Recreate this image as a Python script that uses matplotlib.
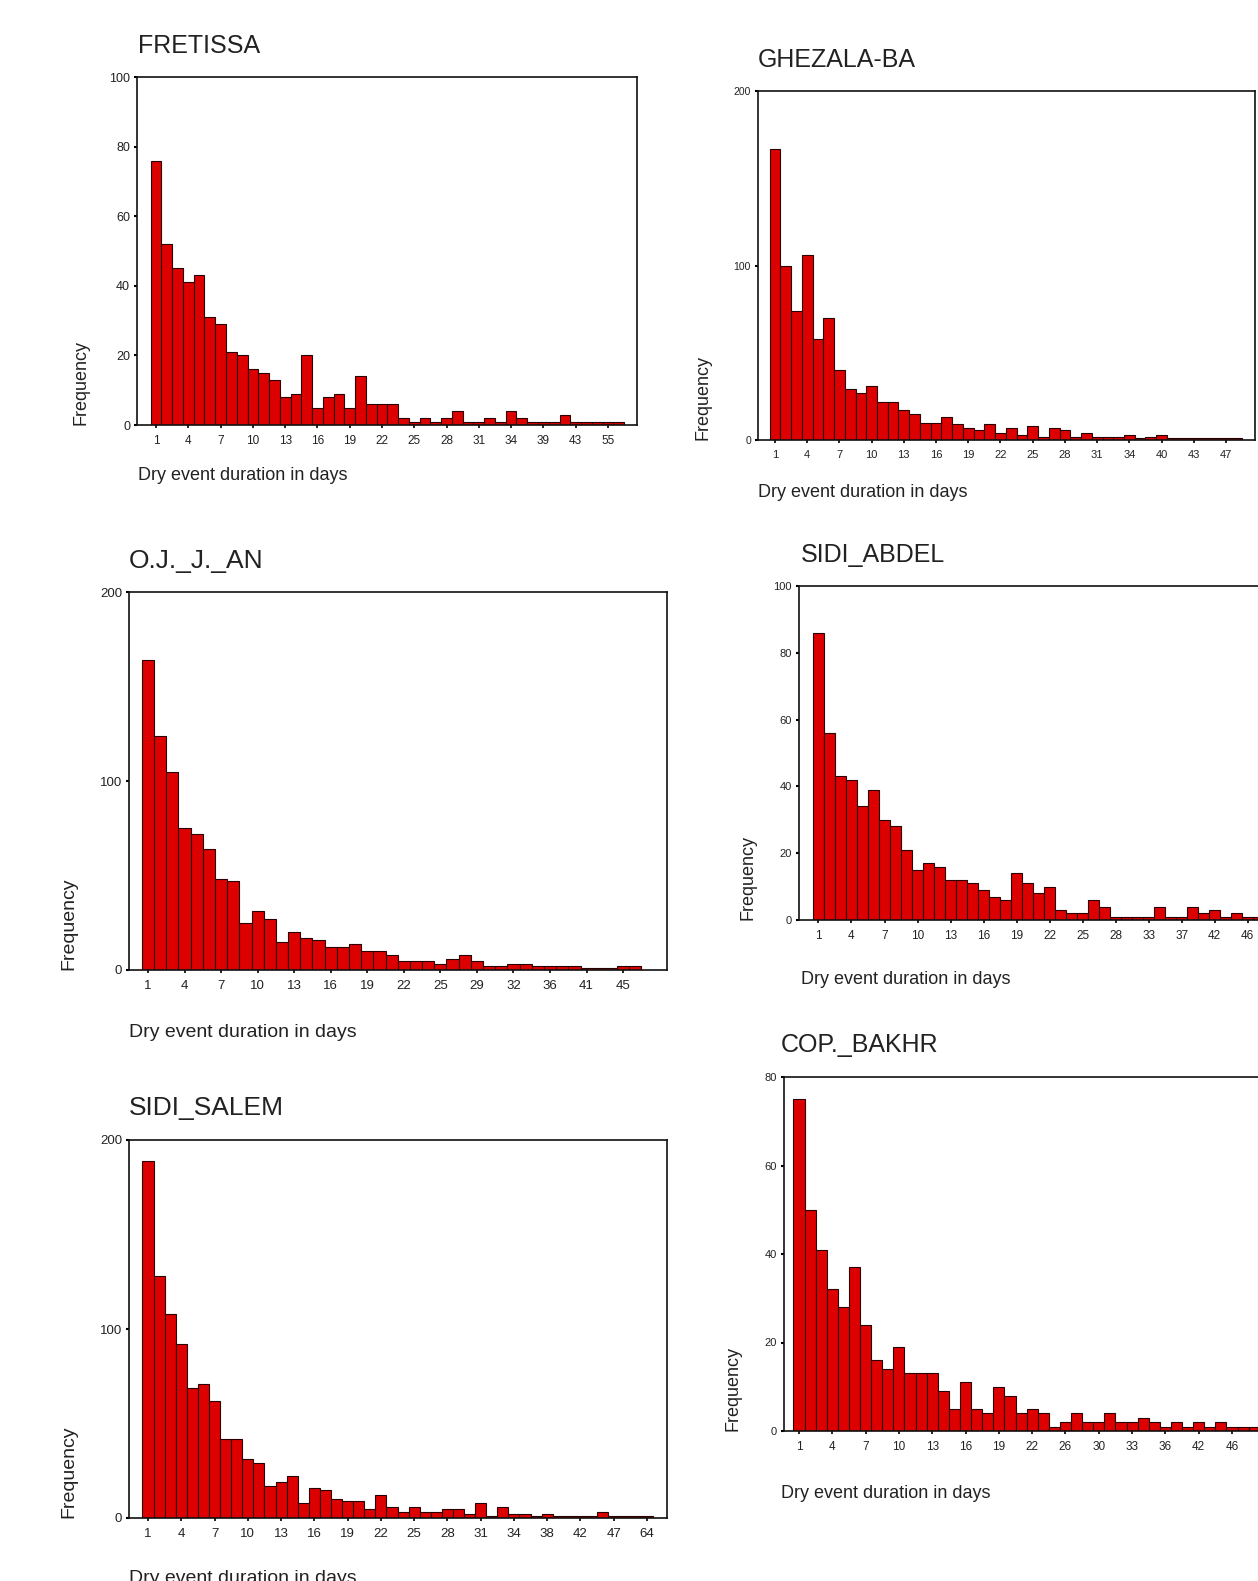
import matplotlib
matplotlib.use("Agg")
import matplotlib.pyplot as plt

plt.rcParams['font.family'] = ['Liberation Sans', 'DejaVu Sans']

# Dry event durations (categories) and their frequencies per station
fretissa_days = list(range(1, 35)) + [36, 37, 39, 40, 42, 43, 46, 49, 55, 61]
fretissa_freq = [76, 52, 45, 41, 43, 31, 29, 21, 20, 16,
                 15, 13, 8, 9, 20, 5, 8, 9, 5, 14,
                 6, 6, 6, 2, 1, 2, 1, 2, 4, 1,
                 1, 2, 1, 4, 2, 1, 1, 1, 3, 1,
                 1, 1, 1, 1]

ghezala_days = list(range(1, 35)) + [36, 38, 40, 41, 42, 43, 44, 45, 47, 52]
ghezala_freq = [167, 100, 74, 106, 58, 70, 40, 29, 27, 31,
                22, 22, 17, 15, 10, 10, 13, 9, 7, 6,
                9, 4, 7, 3, 8, 2, 7, 6, 2, 4,
                2, 2, 2, 3, 1, 2, 3, 1, 1, 1,
                1, 1, 1, 1]

oj_days = list(range(1, 28)) + [29, 30, 31, 32, 33, 35, 36, 38, 39, 41, 42, 44, 45, 48]
oj_freq = [164, 124, 105, 75, 72, 64, 48, 47, 25, 31,
           27, 15, 20, 17, 16, 12, 12, 14, 10, 10,
           8, 5, 5, 5, 3, 6, 8, 5, 2, 2,
           3, 3, 2, 2, 2, 2, 1, 1, 1, 2,
           2]

abdel_days = list(range(1, 30)) + [31, 33, 34, 35, 37, 38, 40, 42, 43, 44, 46, 48, 50, 53, 60]
abdel_freq = [86, 56, 43, 42, 34, 39, 30, 28, 21, 15,
              17, 16, 12, 12, 11, 9, 7, 6, 14, 11,
              8, 10, 3, 2, 2, 6, 4, 1, 1, 1,
              1, 4, 1, 1, 4, 2, 3, 1, 2, 1,
              1, 1, 1, 1]

salem_days = list(range(1, 36)) + [37, 38, 40, 41, 42, 43, 45, 47, 50, 56, 64]
salem_freq = [189, 128, 108, 92, 69, 71, 62, 42, 42, 31,
              29, 17, 19, 22, 8, 16, 15, 10, 9, 9,
              5, 12, 6, 3, 6, 3, 3, 5, 5, 2,
              8, 1, 6, 2, 2, 1, 2, 1, 1, 1,
              1, 3, 1, 1, 1, 1]

bakhr_days = list(range(1, 25)) + [26, 27, 28, 30, 31, 32, 33, 34, 35, 36,
                                   38, 40, 42, 43, 45, 46, 48, 50, 53, 58]
bakhr_freq = [75, 50, 41, 32, 28, 37, 24, 16, 14, 19,
              13, 13, 13, 9, 5, 11, 5, 4, 10, 8,
              4, 5, 4, 1, 2, 4, 2, 2, 4, 2,
              2, 3, 2, 1, 2, 1, 2, 1, 2, 1,
              1, 1, 1, 1]

W, H = 1258, 1581
fig = plt.figure(figsize=(W / 100, H / 100), dpi=100)


def px_rect(left, top, right, bottom):
    return [left / W, 1 - bottom / H, (right - left) / W, (bottom - top) / H]


def draw_panel(box, days, freq, xlim, ymax, ystep, title, title_xy, ylab_x,
               xlab_xy, tick_fs=8.5, xtick_fs=8.5, lab_fs=13, title_fs=18):
    left, top, right, bottom = box
    ax = fig.add_axes(px_rect(left, top, right, bottom))
    pos = list(range(len(days)))
    ax.bar(pos, freq, width=1.0, color='#dc0000', edgecolor='#2a0000', linewidth=0.8)
    ax.set_xlim(*xlim)
    ax.set_ylim(0, ymax)
    ax.set_yticks(range(0, ymax + 1, ystep))
    ax.set_xticks(pos[::3])
    ax.set_xticklabels([str(d) for d in days[::3]])
    ax.tick_params(axis='y', direction='out', length=2.5, width=1.5, pad=2.5,
                   labelsize=tick_fs, labelcolor='#222222')
    ax.tick_params(axis='x', direction='out', length=2.5, width=1.2, pad=4.5,
                   labelsize=xtick_fs, labelcolor='#222222')
    for s in ax.spines.values():
        s.set_linewidth(1.2)
        s.set_color('#111111')
    fig.text(title_xy[0] / W, 1 - title_xy[1] / H, title, fontsize=title_fs,
             ha='left', va='baseline', color='#222222')
    fig.text(ylab_x / W, 1 - bottom / H, 'Frequency', rotation=90, fontsize=lab_fs,
             ha='center', va='bottom', color='#222222')
    fig.text(xlab_xy[0] / W, 1 - xlab_xy[1] / H, 'Dry event duration in days',
             fontsize=lab_fs, ha='left', va='baseline', color='#222222')
    return ax


draw_panel((137, 77, 637, 425), fretissa_days, fretissa_freq, (-1.77, 44.7), 100, 20,
           'FRETISSA', (138, 53), 81, (138, 480), tick_fs=9)
draw_panel((758, 91, 1255, 440), ghezala_days, ghezala_freq, (-1.58, 44.7), 200, 100,
           'GHEZALA-BA', (758, 67), 703, (758, 497), tick_fs=7.5, xtick_fs=8)
draw_panel((129, 592, 667, 970), oj_days, oj_freq, (-1.56, 42.6), 200, 100,
           'O.J._J._AN', (129, 568), 69, (129, 1037),
           tick_fs=9.5, xtick_fs=9.5, lab_fs=14, title_fs=19)
draw_panel((799, 586, 1317, 920), abdel_days, abdel_freq, (-1.77, 45.3), 100, 20,
           'SIDI_ABDEL', (801, 562), 748, (801, 984), tick_fs=8)
draw_panel((129, 1140, 667, 1518), salem_days, salem_freq, (-1.71, 46.8), 200, 100,
           'SIDI_SALEM', (129, 1115), 69, (129, 1583),
           tick_fs=9.5, xtick_fs=9.5, lab_fs=14, title_fs=19)
draw_panel((784, 1077, 1302, 1431), bakhr_days, bakhr_freq, (-1.35, 45.3), 80, 20,
           'COP._BAKHR', (781, 1052), 733, (781, 1498), tick_fs=8)

fig.savefig('out.png', dpi=100)
